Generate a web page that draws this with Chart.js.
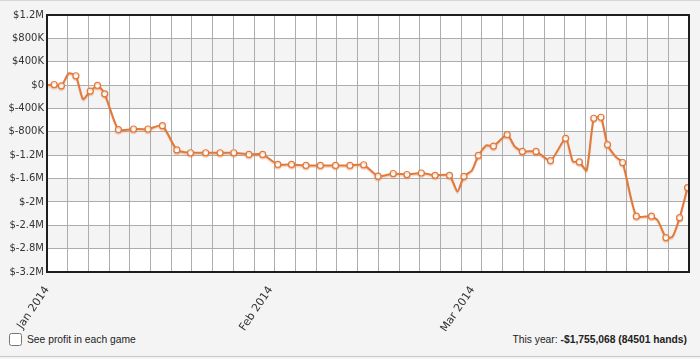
<!DOCTYPE html>
<html>
<head>
<meta charset="utf-8">
<script src="https://cdn.jsdelivr.net/npm/chart.js@4/dist/chart.umd.min.js"></script>
<style>
    html, body { margin: 0; padding: 0; background: #f4f4f4; }
    .wrap {
        position: relative;
        width: 700px;
        height: 359px;
        background: #f4f4f4;
        border-top: 1px solid #d6d6d6;
        box-sizing: border-box;
        font-family: "Liberation Sans", Arial, sans-serif;
        color: #222;
    }
    .chart-box { position: absolute; left: 0; top: 0; width: 700px; height: 330px; }
    .footer-line { position: absolute; left: 0; right: 0; top: 355px; border-top: 1px solid #c8c8c8; }
    .see-profit { position: absolute; left: 9px; top: 332px; font-size: 10.3px; display: flex; align-items: center; }
    .see-profit input { margin: 0 5px 0 0; width: 13px; height: 13px; }
    .this-year { position: absolute; right: 13px; top: 333px; font-size: 10.3px; }
</style>
</head>
<body>
<div class="wrap">
    <div class="chart-box"><canvas id="profitChart"></canvas></div>
    <label class="see-profit"><input type="checkbox">See profit in each game</label>
    <div class="this-year">This year: <b>-$1,755,068 (84501 hands)</b></div>
    <div class="footer-line"></div>
</div>
<script>
// day of year (0 = Jan 1) for each point
const days = [
    0, 1, 2, 3, 4, 5, 6, 7, 8, 9.9,
    12, 14, 16, 18, 19.9, 22, 24, 25.9, 28, 29.9,
    32, 33.9, 35.9, 37.9, 40, 42, 43.9, 45.9, 48, 49.9,
    51.9, 53.8, 55.8, 56.9, 57.8, 58.9, 59.8, 60.9, 61.9, 63.8,
    64.8, 65.9, 67.8, 69.8, 71.9, 72.9, 73.8, 74.8, 75.8, 76.8,
    77.7, 78.9, 79.8, 81.7, 83.8, 84.7, 85.8, 86.7, 87.7, 88.8,
];

// cumulative profit, dollars
const profit = [
    0, 10000, -12000, 200000, 160000, -240000, -103000, -5000, -150000, -762000,
    -752000, -752000, -694000, -1110000, -1158000, -1158000, -1158000, -1158000, -1187000, -1187000,
    -1359000, -1359000, -1376000, -1376000, -1376000, -1376000, -1364000, -1560000, -1514000, -1531000,
    -1505000, -1545000, -1545000, -1820000, -1562000, -1462000, -1204000, -1032000, -1044000, -848000,
    -1044000, -1135000, -1135000, -1293000, -912000, -1307000, -1316000, -1462000, -568000, -551000,
    -1018000, -1234000, -1325000, -2245000, -2245000, -2322000, -2610000, -2597000, -2270000, -1755068,
];

// game end markers (1 = drawn with a circle)
const marked = [
    0, 1, 1, 0, 1, 0, 1, 1, 1, 1,
    1, 1, 1, 1, 1, 1, 1, 1, 1, 1,
    1, 1, 1, 1, 1, 1, 1, 1, 1, 1,
    1, 1, 1, 0, 1, 0, 1, 0, 1, 1,
    0, 1, 1, 1, 1, 0, 1, 0, 1, 1,
    1, 0, 1, 1, 1, 0, 1, 0, 1, 1,
];

const monthStarts = [0, 31, 59];
const monthLabels = ['Jan 2014', 'Feb 2014', 'Mar 2014'];

const LINE_COLOR = '#e07a3c';
const GRID_COLOR = '#adadad';

function moneyLabel(v) {
    const r = Math.round(v / 1000) * 1000;
    if (r === 0) return '$0';
    if (Math.abs(r) >= 1000000) return '$' + (Math.round(r / 100000) / 10) + 'M';
    return '$' + (r / 1000) + 'K';
}

const plotFrame = {
    id: 'plotFrame',
    beforeDraw(chart) {
        const { ctx, chartArea: a, scales: { y } } = chart;
        ctx.save();
        ctx.fillStyle = '#ffffff';
        ctx.fillRect(a.left, a.top, a.width, a.height);
        // alternating bands every other 400K row
        ctx.fillStyle = '#f4f4f4';
        for (let v = 800000; v > -3200000; v -= 800000) {
            const top = y.getPixelForValue(v);
            const bottom = y.getPixelForValue(v - 400000);
            ctx.fillRect(a.left, top, a.width, bottom - top);
        }
        ctx.restore();
    },
    beforeDatasetsDraw(chart) {
        const { ctx } = chart;
        ctx.save();
        ctx.shadowColor = 'rgba(225,120,60,0.3)';
        ctx.shadowBlur = 1;
        ctx.shadowOffsetY = 1.5;
    },
    afterDatasetsDraw(chart) {
        chart.ctx.restore();
    },
    afterDraw(chart) {
        const { ctx, chartArea: a } = chart;
        ctx.save();
        ctx.strokeStyle = '#1e1e1e';
        ctx.lineWidth = 2;
        ctx.strokeRect(a.left, a.top, a.width, a.height);
        ctx.restore();
    },
};

document.addEventListener('DOMContentLoaded', () => {
    const canvas = document.getElementById('profitChart');

    new Chart(canvas, {
        type: 'line',
        data: {
            datasets: [{
                label: 'Profit',
                data: days.map((d, i) => ({ x: d, y: profit[i] })),
                borderColor: LINE_COLOR,
                borderWidth: 2,
                tension: 0.2,
                pointBackgroundColor: '#ffffff',
                pointBorderColor: LINE_COLOR,
                pointBorderWidth: 1.2,
                pointRadius: (ctx) => (marked[ctx.dataIndex] ? 3 : 0),
                pointHoverRadius: 3,
                fill: false,
            }],
        },
        options: {
            responsive: true,
            maintainAspectRatio: false,
            animation: false,
            layout: { padding: { top: 14, right: 11, left: 0, bottom: 0 } },
            plugins: {
                legend: { display: false },
                tooltip: { enabled: false },
            },
            scales: {
                x: {
                    type: 'linear',
                    min: 0,
                    max: 89,
                    grid: { display: false },
                    border: { display: false },
                    afterBuildTicks: (scale) => {
                        scale.ticks = monthStarts.map((v) => ({ value: v }));
                    },
                    afterFit: (scale) => { scale.height = 59; },
                    ticks: {
                        autoSkip: false,
                        minRotation: 56,
                        maxRotation: 56,
                        padding: 4,
                        color: '#333',
                        font: { family: 'DejaVu Sans', size: 11 },
                        callback: (v) => monthLabels[monthStarts.indexOf(v)] ?? '',
                    },
                },
                xg: {
                    type: 'linear',
                    position: 'top',
                    min: 0,
                    max: 31,
                    grid: { color: GRID_COLOR, drawTicks: false },
                    border: { display: false },
                    ticks: { display: false, stepSize: 1 },
                    afterFit: (scale) => { scale.height = 0; },
                },
                y: {
                    min: -3200000,
                    max: 1200000,
                    grid: { color: GRID_COLOR, drawTicks: false },
                    border: { display: false },
                    afterFit: (scale) => { scale.width = 47; },
                    ticks: {
                        stepSize: 400000,
                        padding: 3,
                        color: '#333',
                        font: { family: 'DejaVu Sans', size: 10 },
                        callback: moneyLabel,
                    },
                },
            },
        },
        plugins: [plotFrame],
    });
});
</script>
</body>
</html>
